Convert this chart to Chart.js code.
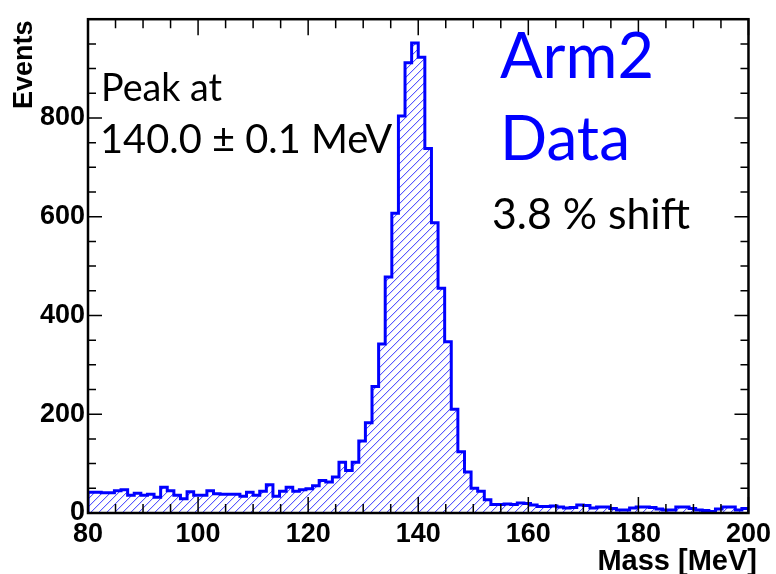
<!DOCTYPE html>
<html>
<head>
<meta charset="utf-8">
<script src="https://cdn.jsdelivr.net/npm/chart.js@4.4.0/dist/chart.umd.min.js"></script>
<style>
  html, body { margin: 0; padding: 0; background: #fff; }
  #wrap { width: 776px; height: 574px; }
</style>
</head>
<body>
<div id="wrap"><canvas id="histo"></canvas></div>
<script>
// Mass histogram, 100 bins of 1.2 MeV between 80 and 200 MeV
const massMin = 80;
const massMax = 200;
const binWidth = 1.2;

// Events per bin
const counts = [
    42, 42, 41, 41, 45, 47, 36, 40, 36, 38,
    32, 52, 45, 36, 29, 43, 36, 36, 45, 39,
    38, 38, 38, 34, 42, 36, 44, 57, 34, 44,
    52, 44, 47, 49, 55, 66, 63, 73, 103, 86,
    103, 146, 183, 256, 342, 478, 607, 804, 912, 952,
    923, 738, 588, 455, 347, 210, 124, 83, 50, 44,
    27, 17, 17, 18, 17, 20, 19, 16, 13, 13,
    14, 12, 10, 11, 16, 15, 10, 12, 12, 9,
    6, 6, 10, 12, 12, 11, 8, 6, 6, 12,
    12, 9, 6, 5, 3, 8, 12, 12, 6, 9
];

const xTickLabels = [80, 100, 120, 140, 160, 180, 200];
const yTickLabels = [0, 200, 400, 600, 800];
const yMax = 1000;

// step outline points: left edge of every bin, closed down to zero at both ends
const histPoints = [{x: massMin, y: 0}];
counts.forEach((c, i) => histPoints.push({x: massMin + i * binWidth, y: c}));
histPoints.push({x: massMax, y: counts[counts.length - 1]});
histPoints.push({x: massMax, y: 0});

// ROOT style "/" hatching, clipped to the histogram outline
const hatch = {
    id: 'hatch',
    beforeDatasetDraw(chart, args) {
        const {ctx, chartArea: a} = chart;
        const line = args.meta.dataset;
        ctx.save();
        ctx.beginPath();
        ctx.rect(a.left, a.top, a.right - a.left, a.bottom - a.top);
        ctx.clip();
        ctx.beginPath();
        line.path(ctx);
        ctx.closePath();
        ctx.clip();
        ctx.strokeStyle = 'rgb(50,50,255)';
        ctx.lineWidth = 1;
        ctx.beginPath();
        const h = a.bottom - a.top;
        for (let x0 = a.left - h; x0 < a.right; x0 += 8) {
            ctx.moveTo(x0, a.bottom);
            ctx.lineTo(x0 + h, a.top);
        }
        ctx.stroke();
        ctx.restore();
    }
};

// frame with inner ticks on all four sides
const rootFrame = {
    id: 'rootFrame',
    afterDatasetsDraw(chart) {
        const {ctx, chartArea: a, scales: {x, y}} = chart;
        ctx.save();
        ctx.strokeStyle = '#000';
        ctx.lineWidth = 1.5;
        ctx.beginPath();
        for (let m = massMin; m <= massMax; m += 5) {
            const px = x.getPixelForValue(m);
            const len = m % 20 === 0 ? 16 : 9;
            ctx.moveTo(px, a.bottom); ctx.lineTo(px, a.bottom - len);
            ctx.moveTo(px, a.top); ctx.lineTo(px, a.top + len);
        }
        for (let v = 0; v <= yMax; v += 50) {
            const py = y.getPixelForValue(v);
            const len = v % 200 === 0 ? 14 : 8;
            ctx.moveTo(a.left, py); ctx.lineTo(a.left + len, py);
            ctx.moveTo(a.right, py); ctx.lineTo(a.right - len, py);
        }
        ctx.stroke();
        ctx.lineWidth = 2.5;
        ctx.strokeRect(a.left, a.top, a.right - a.left, a.bottom - a.top);
        ctx.restore();
    }
};

// text drawn so that it spans a given width
function fitText(ctx, text, x, y, width, font, color) {
    ctx.font = '100px ' + font;
    const size = 100 * width / ctx.measureText(text).width;
    ctx.font = size.toFixed(1) + 'px ' + font;
    ctx.fillStyle = color;
    ctx.fillText(text, x, y);
}

const labels = {
    id: 'labels',
    afterDraw(chart) {
        const ctx = chart.ctx;
        ctx.save();
        ctx.textBaseline = 'alphabetic';
        ctx.textAlign = 'left';
        fitText(ctx, 'Peak at', 101, 101, 121, 'Lato', '#000');
        fitText(ctx, '140.0 \u00b1 0.1 MeV', 100, 153, 292, 'Lato', '#000');
        fitText(ctx, 'Arm2', 500, 78, 154, 'Lato', '#0000ff');
        fitText(ctx, 'Data', 500, 160, 130, 'Lato', '#0000ff');
        fitText(ctx, '3.8 % shift', 492, 229, 198, 'Lato', '#000');

        // axis titles
        ctx.fillStyle = '#000';
        ctx.font = 'bold 29px "Liberation Sans"';
        ctx.textAlign = 'right';
        ctx.fillText('Mass [MeV]', 757, 570);
        ctx.font = 'bold 27px "Liberation Sans"';
        ctx.translate(32, 109);
        ctx.rotate(-Math.PI / 2);
        ctx.textAlign = 'left';
        ctx.fillText('Events', 0, 0);
        ctx.restore();
    }
};

const tickFont = {family: 'Liberation Sans', size: 27, weight: 'bold'};

new Chart(document.getElementById('histo'), {
    type: 'line',
    data: {
        datasets: [{
            data: histPoints,
            stepped: 'before',
            borderColor: '#0000ff',
            borderWidth: 3,
            fill: false,
            pointRadius: 0,
            tension: 0
        }]
    },
    options: {
        responsive: true,
        maintainAspectRatio: false,
        animation: false,
        layout: {padding: {top: 12, right: 21, left: 0, bottom: 0}},
        plugins: {
            legend: {display: false},
            tooltip: {enabled: false}
        },
        scales: {
            x: {
                type: 'linear',
                min: massMin,
                max: massMax,
                afterFit: s => { s.height = 61; },
                afterBuildTicks: s => { s.ticks = xTickLabels.map(v => ({value: v})); },
                grid: {display: false, drawTicks: false},
                border: {display: false},
                ticks: {
                    font: tickFont,
                    color: '#000',
                    padding: 5,
                    autoSkip: false,
                    maxRotation: 0
                }
            },
            y: {
                min: 0,
                max: yMax,
                afterFit: s => { s.width = 88; },
                afterBuildTicks: s => { s.ticks = yTickLabels.map(v => ({value: v})); },
                grid: {display: false, drawTicks: false},
                border: {display: false},
                ticks: {
                    font: tickFont,
                    color: '#000',
                    padding: 3
                }
            }
        }
    },
    plugins: [hatch, rootFrame, labels]
});
</script>
</body>
</html>
